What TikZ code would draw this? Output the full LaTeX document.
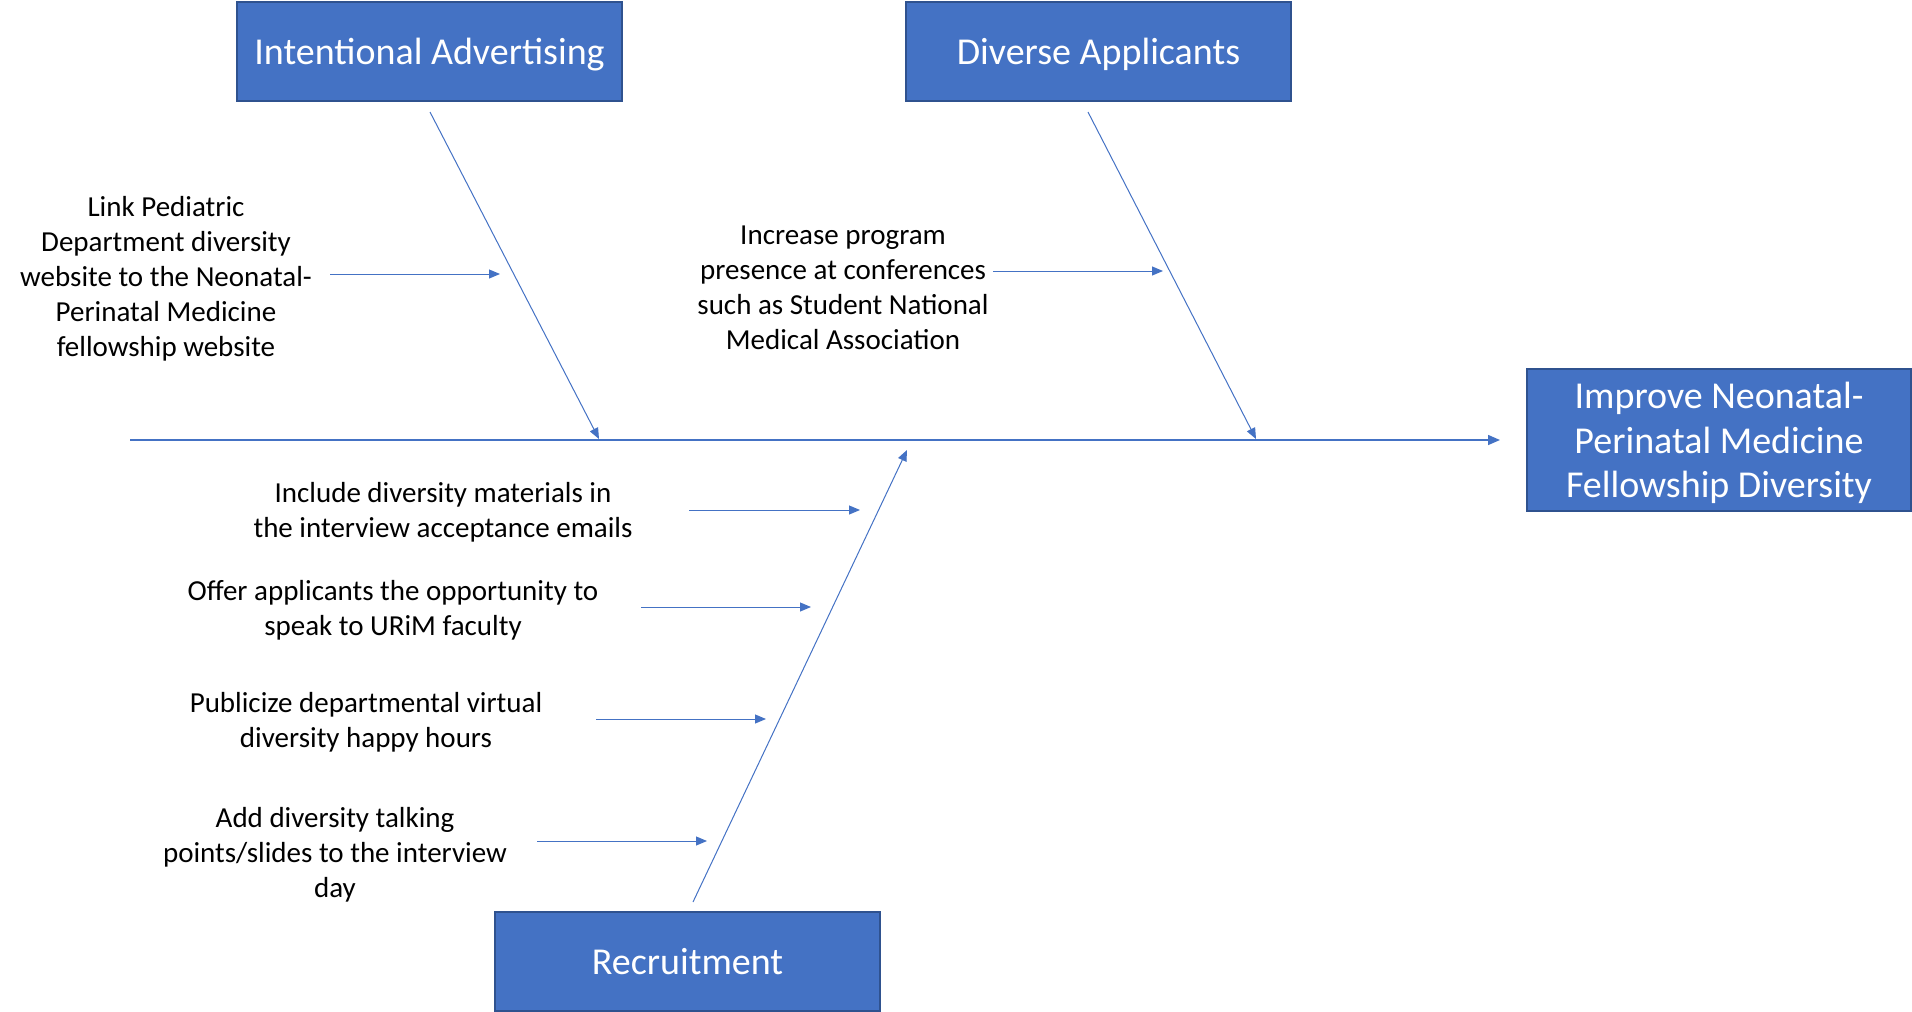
\documentclass[tikz,border=0pt]{standalone}
\usepackage{fontspec}
\setmainfont{Carlito}
\usetikzlibrary{arrows.meta}
\definecolor{officeblue}{HTML}{4472C4}
\definecolor{officeedge}{HTML}{2F528F}
\tikzset{
catbox/.style={draw=officeedge, line width=2pt, fill=officeblue, text=white,
  minimum width=385pt, minimum height=99pt, align=center,
  text height=30pt, text depth=3.6pt,
  font=\fontsize{38}{44.5}\selectfont},
cause/.style={align=center, font=\fontsize{29}{35}\selectfont},
bone/.style={draw=officeblue, line width=1pt, -{Triangle[length=11pt,width=9pt]}},
spine/.style={draw=officeblue, line width=1.5pt, -{Triangle[length=12pt,width=10pt]}}
}
\begin{document}
\begin{tikzpicture}[x=1pt,y=-1pt]
  \useasboundingbox (0,0) rectangle (1912,1012);
  % category boxes
  \node[catbox] (adv) at (429.5,51) {Intentional Advertising};
  \node[catbox] (app) at (1098.5,51) {Diverse Applicants};
  \node[catbox] (rec) at (687.5,961.5) {Recruitment};
  \node[catbox, minimum width=384pt, minimum height=142pt, text height=, text depth=0pt]
    (goal) at (1719,440) {Improve Neonatal-\\Perinatal Medicine\\Fellowship Diversity};
  % spine and bones
  \coordinate (tail) at (130,440);
  \coordinate (head) at (1500,440);
  \coordinate (advtop) at (430,112);
  \coordinate (advend) at (599,439);
  \coordinate (apptop) at (1088,112);
  \coordinate (append) at (1256,439);
  \coordinate (recbot) at (693,902);
  \coordinate (recend) at (907,450);
  \draw[spine] (tail) -- (head);
  \draw[bone] (advtop) -- (advend);
  \draw[bone] (apptop) -- (append);
  \draw[bone] (recbot) -- (recend);
  % causes
  \node[cause] (link) at (166,278.5) {Link Pediatric\\Department diversity\\website to the Neonatal-\\Perinatal Medicine\\fellowship website};
  \node[cause] (conf) at (843,288) {Increase program\\presence at conferences\\such as Student National\\Medical Association};
  \node[cause] (mail) at (443,512.5) {Include diversity materials in\\the interview acceptance emails};
  \node[cause] (urim) at (393,610.5) {Offer applicants the opportunity to\\speak to URiM faculty};
  \node[cause] (happy) at (366,722.5) {Publicize departmental virtual\\diversity happy hours};
  \node[cause] (slides) at (335,854.5) {Add diversity talking\\points/slides to the interview\\day};
  \coordinate (link1) at (330,274);  \coordinate (link2) at (500,274);
  \coordinate (conf1) at (993,271);  \coordinate (conf2) at (1163,271);
  \coordinate (mail1) at (689,510);  \coordinate (mail2) at (860,510);
  \coordinate (urim1) at (641,607);  \coordinate (urim2) at (811,607);
  \coordinate (happy1) at (596,719); \coordinate (happy2) at (766,719);
  \coordinate (slides1) at (537,841); \coordinate (slides2) at (707,841);
  \foreach \c in {link,conf,mail,urim,happy,slides}
    \draw[bone] (\c1) -- (\c2);
\end{tikzpicture}
\end{document}
